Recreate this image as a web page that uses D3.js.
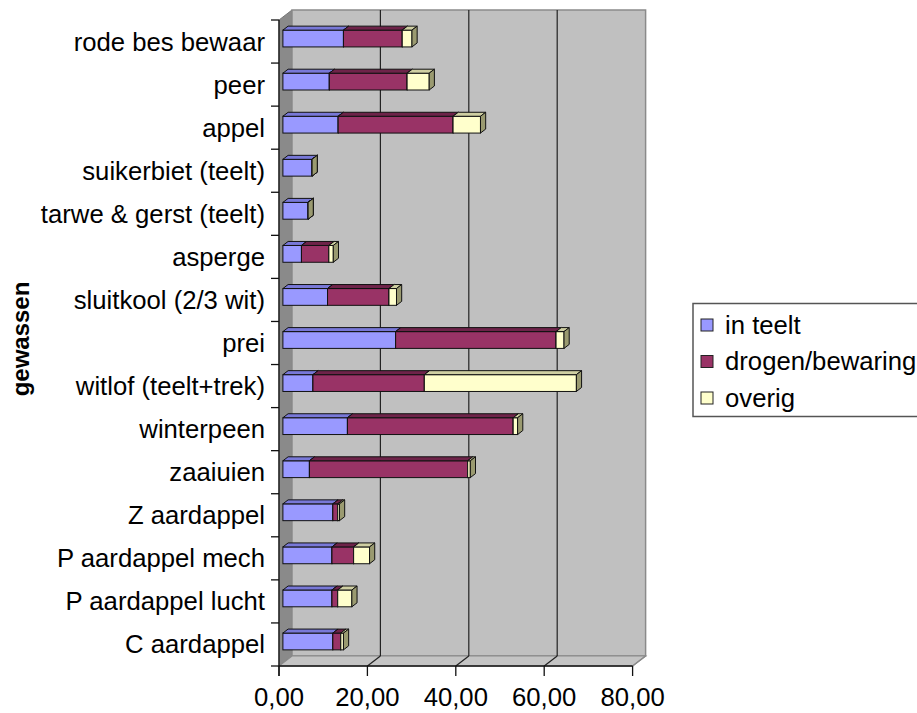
<!DOCTYPE html>
<html><head><meta charset="utf-8">
<script src="https://cdn.jsdelivr.net/npm/d3@7/dist/d3.min.js"></script>
<style>body{margin:0;background:#fff}text{font-family:"Liberation Sans",Arial,sans-serif}</style>
</head><body><svg id="c" width="917" height="713"></svg>
<script>
const categories = ["rode bes bewaar","peer","appel","suikerbiet (teelt)","tarwe & gerst (teelt)","asperge","sluitkool (2/3 wit)","prei","witlof (teelt+trek)","winterpeen","zaaiuien","Z aardappel","P aardappel mech","P aardappel lucht","C aardappel"];
const inTeelt   = [13.7,10.5,12.5,6.6,5.7,4.2,10.1,25.5,6.8,14.6,6.0,11.3,11.1,11.1,11.3];
const drogen    = [13.3,17.6,26.0,0,0,6.2,13.9,36.3,25.2,37.5,35.8,1.1,4.9,1.3,1.8];
const overig    = [2.2,5.0,6.2,0,0,1.0,1.7,1.8,34.4,1.0,0.6,0.4,3.6,3.2,0.6];
const seriesNames = ["in teelt","drogen/bewaring","overig"];
const xTicks = [0,20,40,60,80];
const xTickLabels = ["0,00","20,00","40,00","60,00","80,00"];
const axisTitle = "gewassen";

const colors = [
  {front:"#9999ff", top:"#7878d8", side:"#5c5c99"},
  {front:"#993366", top:"#6e2349", side:"#5c1f3d"},
  {front:"#ffffcc", top:"#cfcfa2", side:"#9a9a70"}
];
const series = [inTeelt, drogen, overig];

const svg = d3.select("#c");
const FONT = 25.7;
const x = d3.scaleLinear().domain([0,80]).range([279,632.6]);
const y = d3.scaleBand().domain(categories).range([20,666]).paddingInner(0.61).paddingOuter(0.305);
const yb = d3.scaleBand().domain(categories).range([20,666]);
const DX = 13, DY = -10;

// left wall
svg.append("path").attr("d",`M${x(0)},${20}L${x(0)+DX},${20+DY}L${x(0)+DX},${666+DY}L${x(0)},666Z`)
  .attr("fill","#8a8a8a").attr("stroke","#777").attr("stroke-width",1);
// back wall
svg.append("rect").attr("x",x(0)+DX).attr("y",20+DY).attr("width",x(80)-x(0)).attr("height",646)
  .attr("fill","#c0c0c0").attr("stroke","#8a8a8a").attr("stroke-width",1.5);
// floor
svg.append("path").attr("d",`M${x(0)},666L${x(0)+DX},${666+DY}L${x(80)+DX},${666+DY}L${x(80)},666Z`)
  .attr("fill","#c4c4c4").attr("stroke","#8a8a8a").attr("stroke-width",1.2);
// gridlines
xTicks.slice(1,4).forEach(t=>{
  svg.append("line").attr("x1",x(t)+DX).attr("x2",x(t)+DX).attr("y1",20+DY).attr("y2",666+DY)
    .attr("stroke","#222").attr("stroke-width",1.2);
  svg.append("line").attr("x1",x(t)+DX).attr("x2",x(t)).attr("y1",666+DY).attr("y2",666)
    .attr("stroke","#222").attr("stroke-width",1.2);
});
svg.append("line").attr("x1",x(80)+DX).attr("x2",x(80)).attr("y1",666+DY).attr("y2",666)
  .attr("stroke","#8a8a8a").attr("stroke-width",1.2);

// bars
const f0 = 0.3, f1 = 0.7;
const bdx = (f1-f0)*DX, bdy = (f1-f0)*DY;
categories.forEach((c,i)=>{
  const yTop = y(c) + f0*DY, h = y.bandwidth();
  let cum = 0;
  series.forEach((s,k)=>{
    const v = s[i];
    const xa = x(cum) + f0*DX, xe = x(cum+v) + f0*DX;
    cum += v;
    const g = svg.append("g");
    g.append("rect").attr("x",xa).attr("y",yTop).attr("width",Math.max(0,xe-xa)).attr("height",h)
      .attr("fill",colors[k].front).attr("stroke","#111").attr("stroke-width",1);
    g.append("path").attr("d",`M${xa},${yTop}L${xa+bdx},${yTop+bdy}L${xe+bdx},${yTop+bdy}L${xe},${yTop}Z`)
      .attr("fill",colors[k].top).attr("stroke","#111").attr("stroke-width",1);
    g.append("path").attr("d",`M${xe},${yTop}L${xe+bdx},${yTop+bdy}L${xe+bdx},${yTop+h+bdy}L${xe},${yTop+h}Z`)
      .attr("fill",colors[k].side).attr("stroke","#111").attr("stroke-width",1);
  });
});

// front axes
svg.append("line").attr("x1",x(0)).attr("x2",x(0)).attr("y1",20).attr("y2",676).attr("stroke","#111").attr("stroke-width",1.3);
svg.append("line").attr("x1",x(0)).attr("x2",x(80)).attr("y1",666).attr("y2",666).attr("stroke","#111").attr("stroke-width",1.5);
xTicks.forEach((t,i)=>{
  svg.append("line").attr("x1",x(t)).attr("x2",x(t)).attr("y1",666).attr("y2",676).attr("stroke","#111").attr("stroke-width",1.3);
  svg.append("text").attr("x",x(t)).attr("y",706).attr("text-anchor","middle").attr("font-size",FONT).attr("fill","#000").text(xTickLabels[i]);
});
// y ticks at band boundaries
categories.forEach(c=>{
  svg.append("line").attr("x1",271).attr("x2",x(0)).attr("y1",yb(c)).attr("y2",yb(c)).attr("stroke","#111").attr("stroke-width",1.3);
});
svg.append("line").attr("x1",271).attr("x2",x(0)).attr("y1",666).attr("y2",666).attr("stroke","#111").attr("stroke-width",1.3);
categories.forEach(c=>{
  svg.append("text").attr("x",265).attr("y",yb(c)+yb.bandwidth()/2).attr("dy","0.35em")
    .attr("text-anchor","end").attr("font-size",FONT).attr("fill","#000").text(c);
});
// axis title
svg.append("text").attr("transform","translate(29,339) rotate(-90)").attr("text-anchor","middle")
  .attr("font-size",24).attr("font-weight","bold").attr("fill","#000").text(axisTitle);

// legend
const lg = svg.append("g");
lg.append("rect").attr("x",693).attr("y",303.5).attr("width",230).attr("height",113)
  .attr("fill","#fff").attr("stroke","#555").attr("stroke-width",1.5);
seriesNames.forEach((n,k)=>{
  const cy = 325 + k*36.5;
  lg.append("rect").attr("x",701).attr("y",cy-6).attr("width",12).attr("height",12)
    .attr("fill",colors[k].front).attr("stroke","#222").attr("stroke-width",1);
  lg.append("text").attr("x",725).attr("y",cy).attr("dy","0.35em").attr("font-size",FONT).attr("fill","#000").text(n);
});
</script></body></html>
